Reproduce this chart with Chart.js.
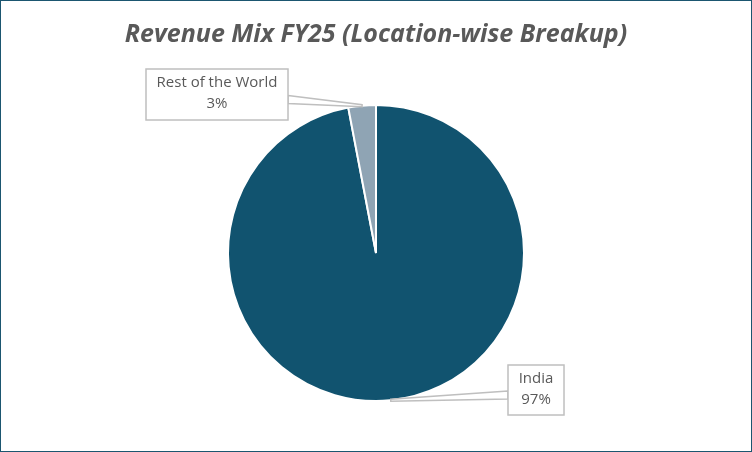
<!DOCTYPE html>
<html><head><meta charset="utf-8">
<script src="https://cdn.jsdelivr.net/npm/chart.js@4"></script>
<style>html,body{margin:0;padding:0;background:#fff}#w{width:750px;height:450px;border:1px solid #1b5670;position:relative}</style>
</head><body><div id="w"><canvas id="c" width="750" height="450"></canvas></div>
<script>
const categories = ["India", "Rest of the World"];
const values = [97, 3];
const colors = ["#11536F", "#8FA4B4"];
const title = "Revenue Mix FY25 (Location-wise Breakup)";

const labelPlugin = {
  id: 'callouts',
  afterDraw(chart) {
    const ctx = chart.ctx;
    ctx.save();
    ctx.font = 'italic bold 25px "Open Sans", "Noto Sans", sans-serif';
    ctx.fillStyle = '#595959';
    ctx.textAlign = 'center'; ctx.textBaseline = 'middle';
    ctx.fillText(title, 375, 34);
    const meta = chart.getDatasetMeta(0);
    const boxes = [
      {x: 507, y: 364, w: 56, h: 50, side: 'left'},
      {x: 145, y: 68, w: 142, h: 51, side: 'right'}
    ];
    meta.data.forEach((arc, i) => {
      const b = boxes[i];
      const mid = (arc.startAngle + arc.endAngle) / 2;
      let ang = mid, r = arc.outerRadius;
      if (i === 0) { ang = Math.PI/2 - 0.1; r = arc.outerRadius; }
      const ax = arc.x + Math.cos(ang) * r, ay = arc.y + Math.sin(ang) * r;
      const bx = b.side === 'left' ? b.x : b.x + b.w;
      const by = b.y + b.h * 0.6;
      ctx.strokeStyle = '#bfbfbf'; ctx.lineWidth = 1.5;
      ctx.fillStyle = '#fff';
      ctx.beginPath(); ctx.moveTo(bx, by - 4); ctx.lineTo(ax, ay - 1); ctx.lineTo(ax, ay + 1); ctx.lineTo(bx, by + 4); ctx.closePath();
      ctx.fill(); ctx.stroke();
      ctx.fillRect(b.x, b.y, b.w, b.h);
      ctx.strokeRect(b.x, b.y, b.w, b.h);
      ctx.fillStyle = '#595959';
      ctx.font = '15px "Open Sans", "Noto Sans", sans-serif';
      ctx.fillText(categories[i], b.x + b.w/2, b.y + 14);
      ctx.fillText(values[i] + '%', b.x + b.w/2, b.y + 35);
    });
    ctx.restore();
  }
};

new Chart(document.getElementById('c'), {
  type: 'pie',
  data: { labels: categories, datasets: [{ data: values, backgroundColor: colors, borderColor: '#fff', borderWidth: 2 }] },
  options: {
    responsive: false, animation: false,
    layout: { padding: { top: 103, bottom: 49 } },
    plugins: { legend: { display: false }, tooltip: { enabled: false } }
  },
  plugins: [labelPlugin]
});
</script></body></html>
